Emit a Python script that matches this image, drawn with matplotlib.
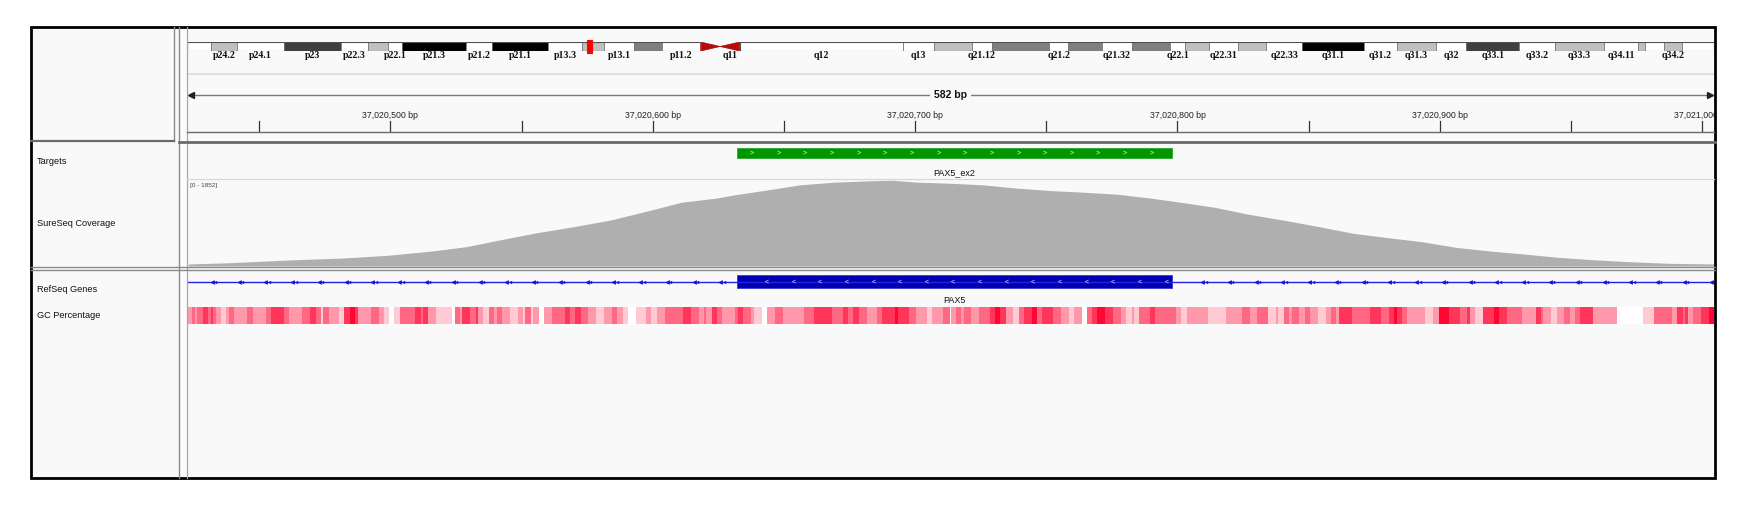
import numpy as np
import matplotlib
matplotlib.use('Agg')
import matplotlib.pyplot as plt
from matplotlib.patches import Rectangle, Polygon

plt.rcParams['font.family'] = ['Liberation Sans', 'DejaVu Sans']

W, H = 1750, 512

# view on chr9
view_start = 37020422.5
view_end = 37021004.5
ruler_ticks = [37020450, 37020500, 37020550, 37020600, 37020650, 37020700,
               37020750, 37020800, 37020850, 37020900, 37020950, 37021000]
ruler_labels = [37020500, 37020600, 37020700, 37020800, 37020900, 37021000]

# chromosome 9 bands (Mb)
band_names = ['p24.3', 'p24.2', 'p24.1', 'p23', 'p22.3', 'p22.2', 'p22.1', 'p21.3',
              'p21.2', 'p21.1', 'p13.3', 'p13.2', 'p13.1', 'p12', 'p11.2', 'p11.1',
              'q11', 'q12', 'q13', 'q21.11', 'q21.12', 'q21.13', 'q21.2', 'q21.31',
              'q21.32', 'q21.33', 'q22.1', 'q22.2', 'q22.31', 'q22.32', 'q22.33',
              'q31.1', 'q31.2', 'q31.3', 'q32', 'q33.1', 'q33.2', 'q33.3', 'q34.11',
              'q34.12', 'q34.13', 'q34.2', 'q34.3']
band_start = [0.0, 2.2, 4.6, 9.0, 14.2, 16.7, 18.6, 19.9, 25.8, 28.2, 33.4, 36.5,
              38.6, 41.3, 43.9, 47.5, 49.3, 51.1, 66.2, 69.1, 72.6, 74.4, 79.7, 81.5,
              84.6, 87.4, 90.9, 92.3, 94.5, 97.2, 99.8, 103.1, 108.8, 111.9, 115.5,
              118.3, 123.2, 126.5, 131.0, 134.2, 134.8, 136.6, 138.2]
band_stain = ['gneg', 'gpos25', 'gneg', 'gpos75', 'gneg', 'gpos25', 'gneg', 'gpos100',
              'gneg', 'gpos100', 'gneg', 'gpos25', 'gneg', 'gpos50', 'gneg', 'acen',
              'acen', 'gvar', 'gneg', 'gpos25', 'gneg', 'gpos50', 'gneg', 'gpos50',
              'gneg', 'gpos50', 'gneg', 'gpos25', 'gneg', 'gpos25', 'gneg',
              'gpos100', 'gneg', 'gpos25', 'gneg', 'gpos75', 'gneg', 'gpos25', 'gneg',
              'gpos25', 'gneg', 'gpos25', 'gneg']
chrom_len = 141.2
shown_labels = ['p24.2', 'p24.1', 'p23', 'p22.3', 'p22.1', 'p21.3', 'p21.2', 'p21.1',
                'p13.3', 'p13.1', 'p11.2', 'q11', 'q12', 'q13', 'q21.12', 'q21.2',
                'q21.32', 'q22.1', 'q22.31', 'q22.33', 'q31.1', 'q31.2', 'q31.3', 'q32',
                'q33.1', 'q33.2', 'q33.3', 'q34.11', 'q34.2']
stain_color = {'gneg': '#FFFFFF', 'gvar': '#FFFFFF', 'gpos25': '#C0C0C0',
               'gpos50': '#808080', 'gpos75': '#404040', 'gpos100': '#000000'}

# target / gene
target_name = 'PAX5_ex2'
target_start, target_end = 37020632, 37020798
gene_name = 'PAX5'
exon_start, exon_end = 37020632, 37020798

# coverage (SureSeq), data range 0-1852
cov_max = 1852
cov_pos = [37020423, 37020439, 37020461, 37020482, 37020499, 37020516, 37020529,
           37020543, 37020556, 37020570, 37020584, 37020597, 37020611, 37020624,
           37020631, 37020644, 37020656, 37020669, 37020682, 37020691, 37020701,
           37020713, 37020726, 37020739, 37020752, 37020764, 37020777, 37020790,
           37020801, 37020814, 37020827, 37020840, 37020854, 37020867, 37020880,
           37020893, 37020906, 37020919, 37020932, 37020945, 37020958, 37020972,
           37020987, 37021005]
cov_val = [43, 71, 129, 172, 230, 323, 416, 575, 717, 846, 990, 1169, 1372, 1458,
           1529, 1637, 1744, 1802, 1830, 1845, 1802, 1780, 1744, 1673, 1621, 1587,
           1544, 1458, 1372, 1264, 1113, 990, 846, 703, 610, 524, 402, 323, 258,
           187, 136, 93, 58, 43]

# GC percentage strip: segment start (bp from view start) and shade level 0-5
gc_start = [0, 2, 3, 4, 6, 8, 9, 10, 11, 13, 15, 16, 18, 23, 25, 30, 32, 37, 39, 44,
            47, 49, 51, 52, 54, 58, 60, 62, 64, 65, 70, 73, 75, 77, 79, 81, 87, 89,
            90, 92, 95, 101, 102, 104, 105, 108, 110, 111, 113, 115, 117, 118, 120,
            123, 126, 128, 129, 131, 132, 134, 136, 139, 144, 146, 148, 150, 153,
            156, 159, 162, 164, 166, 168, 171, 175, 177, 179, 182, 189, 192, 195,
            197, 198, 200, 202, 204, 209, 210, 212, 215, 216, 219, 221, 224, 227,
            235, 239, 246, 250, 252, 254, 256, 259, 263, 265, 270, 271, 275, 278,
            282, 284, 288, 291, 293, 295, 296, 299, 302, 306, 308, 310, 312, 315,
            317, 319, 322, 324, 326, 330, 333, 336, 338, 341, 343, 345, 347, 350,
            353, 356, 358, 360, 361, 363, 367, 369, 377, 379, 381, 389, 396, 402,
            405, 408, 412, 415, 416, 418, 420, 421, 424, 426, 428, 431, 434, 436,
            438, 439, 444, 451, 455, 458, 460, 461, 463, 465, 472, 475, 477, 481,
            485, 488, 489, 491, 494, 498, 500, 503, 509, 514, 516, 517, 520, 522,
            525, 527, 529, 531, 536, 545, 555, 559, 566, 568, 570, 571, 572, 574,
            577, 580]
gc_level = [2, 3, 2, 3, 4, 3, 4, 3, 2, 1, 2, 3, 2, 3, 2, 3, 4, 3, 2, 3,
            4, 3, 1, 3, 2, 1, 4, 5, 4, 2, 3, 2, 1, 0, 1, 3, 4, 3,
            4, 2, 1, 0, 3, 2, 4, 3, 4, 2, 1, 3, 2, 3, 2,
            1, 2, 1, 3, 1, 2, 0, 2, 3, 4, 3, 4, 3, 2,
            1, 2, 3, 2, 1, 0, 1, 2, 1, 2, 3, 4, 3, 2,
            3, 2, 4, 3, 2, 3, 4, 3, 2, 1, 0, 2, 3, 2,
            3, 4, 3, 4, 3, 4, 3, 2, 3, 4, 5, 4, 3, 2,
            1, 2, 3, 2, 3, 2, 3, 2, 3, 4, 5, 4, 2, 1,
            3, 4, 5, 3, 4, 3, 2, 1, 2, 0, 3, 4, 5, 4,
            3, 2, 1, 2, 1, 3, 4, 3, 2, 1, 2, 1, 2, 3,
            2, 3, 1, 2, 1, 3, 2, 3, 2, 3, 2, 1, 2, 3,
            2, 4, 3, 4, 3, 4, 5, 4, 3, 2, 1, 2, 5, 4,
            3, 4, 2, 1, 4, 5, 4, 3, 2, 4, 3, 2, 1, 2,
            3, 2, 3, 4, 2, 0, 1, 3, 2, 4, 3, 4, 2, 3,
            4, 5]
gc_colors = ['#FFFFFF', '#FFCAD4', '#FF98AA', '#FF6782', '#FF3659', '#FF0733']

track_names = ['Targets', 'SureSeq Coverage', 'RefSeq Genes', 'GC Percentage']
track_name_y = [161, 223, 289.5, 316]

PANEL = '#F9F9F9'
DX0, DX1 = 187, 1714


def px_axes(fig, x0, y0, x1, y1, **kw):
    ax = fig.add_axes([x0 / W, 1 - y1 / H, (x1 - x0) / W, (y1 - y0) / H], **kw)
    ax.set_axis_off()
    return ax


fig = plt.figure(figsize=(W / 100, H / 100), dpi=100)
fig.patch.set_facecolor('white')

# background panels
bg = px_axes(fig, 0, 0, W, H)
bg.set_xlim(0, W)
bg.set_ylim(H, 0)
bg.add_patch(Rectangle((31, 27), 1684, 451, facecolor=PANEL, edgecolor='none'))
bg.add_patch(Rectangle((179, 27), 8, 451, facecolor='#FCFCFC', edgecolor='none'))
for name, y in zip(track_names, track_name_y):
    bg.text(37, y, name, fontsize=6.6, va='center', ha='left', color='#111111')

# ideogram
ideo = px_axes(fig, DX0, 42, DX1, 51)
ideo.set_xlim(0, chrom_len)
ideo.set_ylim(1, 0)
band_end = band_start[1:] + [chrom_len]
for nm, s, e, st in zip(band_names, band_start, band_end, band_stain):
    if st == 'acen':
        if nm.startswith('p'):
            pts = [(s, 0), (s, 1), (e, 0.5)]
        else:
            pts = [(e, 0), (e, 1), (s, 0.5)]
        ideo.add_patch(Polygon(pts, closed=True, facecolor='#B40A0A',
                               edgecolor='#B40A0A', lw=0.5))
    else:
        ideo.add_patch(Rectangle((s, 0), e - s, 1, facecolor=stain_color[st],
                                 edgecolor='#6E6E6E', lw=0.5))
    if nm in shown_labels:
        ideo.text((s + e) / 2, 1.55, nm, ha='center', va='center', fontsize=7.2,
                  fontweight='bold', family=['Liberation Serif', 'DejaVu Serif'],
                  color='#111111', clip_on=False)
p_end = band_start[band_stain.index('acen')]
q_begin = band_end[len(band_stain) - 1 - band_stain[::-1].index('acen')]
ideo.add_patch(Rectangle((0, 0), p_end, 1, fill=False, edgecolor='#505050', lw=0.8))
ideo.add_patch(Rectangle((q_begin, 0), chrom_len - q_begin, 1, fill=False,
                         edgecolor='#505050', lw=0.8))
mk = view_start / 1e6
ideo.add_patch(Rectangle((mk, -0.25), 0.45, 1.5, facecolor='#FF0000',
                         edgecolor='#FF0000', lw=0.8, clip_on=False))

# ruler
rul = px_axes(fig, DX0, 73, DX1, 132)
rul.set_xlim(view_start, view_end)
rul.set_ylim(132, 73)
rul.plot([view_start, view_end], [73.5, 73.5], color='#DADADA', lw=1.2)
rul.plot([view_start + 1.5, view_end - 1.5], [95, 95], color='#7A7A7A', lw=1.0)
rul.plot([view_start + 1.5], [95], marker='<', ms=4, color='#222222', clip_on=False)
rul.plot([view_end - 1.5], [95], marker='>', ms=4, color='#222222', clip_on=False)
span = int(round(view_end - view_start))
rul.text((view_start + view_end) / 2, 95.5, f'{span} bp', ha='center', va='center',
         fontsize=7.5, fontweight='bold', color='#111111',
         bbox=dict(facecolor=PANEL, edgecolor='none', pad=3))
for t in ruler_ticks:
    rul.plot([t, t], [121, 131], color='#333333', lw=0.9)
for t in ruler_labels:
    rul.text(t, 115, f'{t:,} bp', ha='center', va='center', fontsize=6.3,
             color='#222222', clip_on=True)

# targets track
tgt = px_axes(fig, DX0, 143, DX1, 179)
tgt.set_xlim(view_start, view_end)
tgt.set_ylim(179, 143)
tgt.add_patch(Rectangle((target_start, 148.3), target_end - target_start, 9.7,
                        facecolor='#009600', edgecolor='#2AA52A', lw=0.6))
for c in np.arange(target_start + 5.7, target_end - 2, 10.16):
    tgt.text(c, 153.2, '>', color='white', fontsize=5, ha='center', va='center')
tgt.text((target_start + target_end) / 2, 172.7, target_name, ha='center', va='center',
         fontsize=6.5, color='#111111')

# coverage track
cov = px_axes(fig, DX0, 179, DX1, 266)
cov.set_xlim(view_start, view_end)
cov.set_ylim(0, cov_max * 1.01)
cov.fill_between(cov_pos, cov_val, 0, color='#AFAFAF', lw=0)
cov.text(0.002, 0.95, f'[0 - {cov_max}]', transform=cov.transAxes, fontsize=4.6,
         color='#444444', ha='left', va='top')

# gene track
gen = px_axes(fig, DX0, 270, DX1, 305)
gen.set_xlim(view_start, view_end)
gen.set_ylim(305, 270)
gen.plot([view_start, view_end], [282.3, 282.3], color='#2323E6', lw=1.0)
for c in np.arange(view_start + 9.5, view_end, 10.2):
    if exon_start - 2 < c < exon_end + 2:
        continue
    gen.plot([c], [282.3], marker='<', ms=3.4, color='#1010E0', mew=0)
    gen.plot([c + 1.3], [282.3], marker='<', ms=2.4, color='#1010E0', mew=0)
gen.add_patch(Rectangle((exon_start, 275.3), exon_end - exon_start, 12.7,
                        facecolor='#0000B2', edgecolor='#3A3AD0', lw=0.6))
for c in np.arange(exon_start + 11.4, exon_end - 2, 10.16):
    gen.text(c, 281.6, '<', color='white', fontsize=5, ha='center', va='center')
gen.text((exon_start + exon_end) / 2, 300.7, gene_name, ha='center', va='center',
         fontsize=6.5, color='#111111')

# GC percentage track
gc = px_axes(fig, DX0, 306.7, DX1, 324)
gc.set_xlim(view_start, view_end)
gc.set_ylim(0, 1)
gc_end = gc_start[1:] + [span]
gc.bar([view_start + s for s in gc_start], 1, width=[e - s for s, e in zip(gc_start, gc_end)],
       align='edge', color=[gc_colors[l] for l in gc_level], lw=0)

# frame lines on top
top = px_axes(fig, 0, 0, W, H)
top.set_xlim(0, W)
top.set_ylim(H, 0)
top.patch.set_alpha(0)
gl = dict(color='#8A8A8A', lw=1.0)
top.plot([173.5, 173.5], [27, 141], **gl)
top.plot([179, 179], [27, 478], **gl)
top.plot([186.5, 186.5], [27, 478], color='#A8A8A8', lw=0.9)
top.plot([DX0, DX1], [132, 132], color='#6A6A6A', lw=1.0)
top.plot([31, 173.5], [141, 141], color='#6A6A6A', lw=1.6)
top.plot([179, 1715], [141.5, 141.5], color='#6A6A6A', lw=2.0)
top.plot([DX0, DX1], [179.3, 179.3], color='#D6D6E4', lw=0.9)
top.plot([31, 1715], [266.7, 266.7], color='#8A8A8A', lw=1.0)
top.plot([31, 1715], [269.5, 269.5], color='#8A8A8A', lw=1.0)
top.add_patch(Rectangle((31, 27), 1684, 451, fill=False, edgecolor='black', lw=2.0))

fig.savefig('out.png', dpi=100, facecolor='white')
